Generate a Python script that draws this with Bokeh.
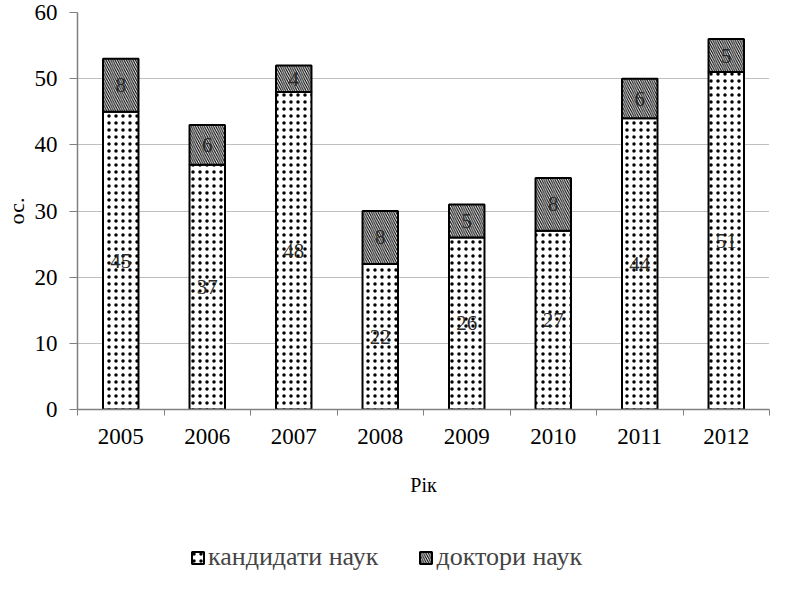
from bokeh.plotting import figure
from bokeh.layouts import column
from bokeh.models import Range1d, FixedTicker, Legend, LegendItem, ColumnDataSource
from bokeh.core.properties import value
from bokeh.embed import file_html
from bokeh.resources import INLINE

years = ["2005", "2006", "2007", "2008", "2009", "2010", "2011", "2012"]
candidates = [45, 37, 48, 22, 26, 27, 44, 51]
doctors = [8, 6, 4, 8, 5, 8, 6, 5]
series_names = ["кандидати наук", "доктори наук"]
y_ticks = [0, 10, 20, 30, 40, 50, 60]

xs = [i + 0.5 for i in range(len(years))]
tops = [c + d for c, d in zip(candidates, doctors)]
src = ColumnDataSource(dict(
    x=xs, cand=candidates, doc=doctors, top=tops,
    cand_mid=[c / 2 for c in candidates],
    doc_mid=[c + d / 2 for c, d in zip(candidates, doctors)],
    cand_lbl=[str(c) for c in candidates],
    doc_lbl=[str(d) for d in doctors],
))

SERIF = "Liberation Serif"
STYLE1 = dict(fill_color="white", line_color="black", line_width=2,
              hatch_pattern="dot", hatch_color="black", hatch_scale=7, hatch_weight=1.3)
STYLE2 = dict(fill_color="white", line_color="black", line_width=2,
              hatch_pattern="left_diagonal_line", hatch_color="black", hatch_scale=4.5, hatch_weight=1.1)

p = figure(width=771, height=510, output_backend="svg", toolbar_location=None,
           x_range=Range1d(0, len(years)), y_range=Range1d(0, 60),
           min_border_left=72, min_border_right=2, min_border_top=12, min_border_bottom=101)
p.outline_line_color = None
p.background_fill_color = "white"

p.vbar(x="x", bottom=0, top="cand", width=0.41, source=src, **STYLE1)
p.vbar(x="x", bottom="cand", top="top", width=0.41, source=src, **STYLE2)

for mid, lbl in (("cand_mid", "cand_lbl"), ("doc_mid", "doc_lbl")):
    p.text(x="x", y=mid, text=lbl, source=src, text_font=value(SERIF),
           text_font_size="21px", text_color="#2a2a2a",
           text_align="center", text_baseline="middle")

# grid
p.xgrid.visible = False
p.ygrid.ticker = FixedTicker(ticks=y_ticks)
p.ygrid.grid_line_color = "#7f7f7f"
p.ygrid.grid_line_dash = "1 1"
p.ygrid.grid_line_width = 1

# y axis
ya = p.yaxis[0]
ya.ticker = FixedTicker(ticks=y_ticks)
ya.axis_line_color = "#808080"
ya.axis_line_width = 1.5
ya.major_tick_line_color = "#808080"
ya.major_tick_out = 8
ya.major_tick_in = 0
ya.minor_tick_line_color = None
ya.major_label_text_font = SERIF
ya.major_label_text_font_size = "23px"
ya.major_label_text_color = "black"
ya.major_label_standoff = 12
ya.axis_label = "ос."
ya.axis_label_text_font = SERIF
ya.axis_label_text_font_size = "22px"
ya.axis_label_text_font_style = "normal"
ya.axis_label_text_color = "black"
ya.axis_label_standoff = 3

# x axis: labels at bar centres, ticks at category boundaries
xa = p.xaxis[0]
xa.ticker = FixedTicker(ticks=xs, minor_ticks=list(range(len(years) + 1)))
xa.major_label_overrides = {x: y for x, y in zip(xs, years)}
xa.axis_line_color = "#808080"
xa.axis_line_width = 1.5
xa.major_tick_line_color = None
xa.major_tick_out = 0
xa.major_tick_in = 0
xa.minor_tick_line_color = "#808080"
xa.minor_tick_out = 6
xa.minor_tick_in = 0
xa.major_label_text_font = SERIF
xa.major_label_text_font_size = "23px"
xa.major_label_text_color = "black"
xa.major_label_standoff = 13
xa.axis_label = "Рік"
xa.axis_label_text_font = SERIF
xa.axis_label_text_font_size = "20px"
xa.axis_label_text_font_style = "normal"
xa.axis_label_text_color = "black"
xa.axis_label_standoff = 27

# legend panel below the chart (hidden copies of the two series supply the legend glyphs)
p2 = figure(width=771, height=64, output_backend="svg", toolbar_location=None,
            x_range=Range1d(0, len(years)), y_range=Range1d(0, 60),
            x_axis_type=None, y_axis_type=None,
            min_border_left=0, min_border_right=0, min_border_top=0, min_border_bottom=0)
p2.outline_line_color = None
p2.xgrid.visible = False
p2.ygrid.visible = False
l1 = p2.vbar(x="x", bottom=0, top="cand", width=0.41, source=src, visible=False, **STYLE1)
l2 = p2.vbar(x="x", bottom="cand", top="top", width=0.41, source=src, visible=False, **STYLE2)
legend = Legend(items=[LegendItem(label=series_names[0], renderers=[l1]),
                       LegendItem(label=series_names[1], renderers=[l2])],
                orientation="horizontal", location=(113, 2),
                label_text_font=SERIF, label_text_font_size="26px",
                glyph_width=15, glyph_height=15, label_standoff=3, spacing=40,
                padding=0, margin=0, border_line_color=None,
                background_fill_alpha=0)
p2.add_layout(legend)

layout = column(p, p2, spacing=0)
open("out.html", "w").write(file_html(layout, INLINE))
